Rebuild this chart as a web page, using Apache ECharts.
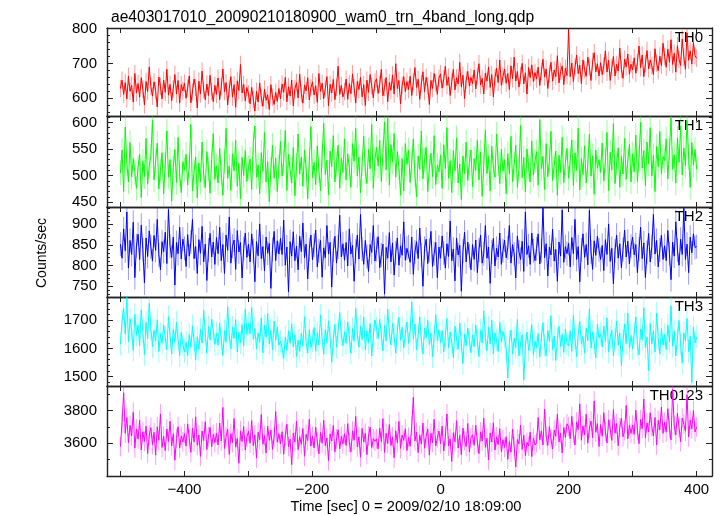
<!DOCTYPE html>
<html><head><meta charset="utf-8">
<script src="https://cdn.jsdelivr.net/npm/echarts@6/dist/echarts.min.js"></script>
<style>html,body{margin:0;padding:0;background:#fff}#c{width:723px;height:516px}</style>
</head><body><div id="c"></div>
<script>
// ---- data ----
const tStart = -500, tStep = 2.5;
const panelNames = ['TH0', 'TH1', 'TH2', 'TH3', 'TH0123'];
const errors = [25, 23, 29, 40, 60];
const th0 = [
628,652,611,645,598,663,620,637,589,671,615,642,603,659,626,581,648,619,690,634,
606,647,622,575,661,634,598,652,617,683,609,640,593,627,668,612,651,586,639,621,
643,600,629,664,587,618,655,631,572,649,612,678,624,596,641,608,666,620,590,637,
611,658,596,633,684,619,645,581,628,662,603,639,574,650,622,697,615,640,592,631,
612,584,631,597,563,620,589,644,601,577,626,594,610,568,639,603,582,617,591,628,
598,641,617,660,590,633,606,652,578,627,645,601,669,614,586,638,621,659,595,630,
647,609,636,588,671,620,643,599,628,662,578,640,615,654,596,631,692,611,637,604,
619,655,597,642,613,670,630,586,648,625,661,604,639,579,652,617,668,635,601,646,
656,614,640,683,607,631,659,590,645,623,667,612,699,628,651,584,637,662,619,648,
625,663,608,647,688,631,654,597,642,676,619,660,635,582,651,628,671,644,611,658,
670,629,655,692,637,661,608,648,683,624,659,641,703,632,666,599,652,677,635,660,
642,681,627,664,699,638,657,612,672,649,690,631,668,604,659,686,645,710,637,663,
684,643,671,625,693,656,718,649,677,632,665,700,641,673,612,688,659,696,648,674,
655,689,637,676,712,661,684,628,670,703,649,681,662,722,644,677,693,639,686,665,
795,662,701,648,689,724,671,695,642,710,682,663,718,690,651,705,731,676,699,664,
702,668,693,736,675,709,651,688,720,664,697,678,744,683,657,712,690,727,669,698,
681,716,672,703,750,688,724,662,699,737,684,710,693,668,742,701,679,721,694,758,
720,689,741,703,768,697,729,675,751,712,694,770,718,683,788,709,736,698,760,722,
715];
const th1 = [
505,548,470,591,523,488,562,497,532,506,476,515,540,459,527,498,570,484,519,536,
604,492,528,561,475,509,543,466,521,584,497,530,452,515,549,487,572,503,468,526,
511,540,482,519,596,471,507,535,458,524,488,563,501,477,545,512,467,530,579,493,
518,486,551,504,463,527,589,495,518,472,541,509,566,480,523,456,534,500,547,489,
515,531,474,562,593,497,520,466,543,508,581,488,526,451,512,557,495,533,470,518,
564,499,527,585,472,540,511,486,553,462,519,578,503,535,480,548,514,457,529,592,
496,525,483,556,509,471,538,598,502,529,464,546,517,575,488,521,557,476,533,506,
569,492,541,515,478,560,527,589,499,535,468,522,574,507,485,549,513,596,476,531,
553,518,566,489,543,601,511,608,482,558,526,579,497,545,515,463,532,471,560,521,
548,487,524,569,501,460,537,512,584,494,529,553,470,516,542,498,575,483,520,507,
539,476,558,513,590,495,528,468,547,509,571,486,522,455,537,503,563,491,525,548,
479,532,510,567,492,544,461,519,586,504,536,471,555,514,497,578,523,485,549,508,
530,466,541,503,574,489,521,557,478,512,594,496,534,469,550,517,488,565,501,527,
545,482,605,513,536,474,560,498,527,583,491,519,546,463,538,506,572,487,524,551,
495,528,567,481,543,510,589,473,532,502,556,486,521,578,499,537,465,548,514,530,
506,561,490,529,581,472,544,511,598,485,523,552,478,536,503,570,493,527,559,488,
541,507,576,489,533,600,514,547,481,563,522,590,499,538,470,555,517,583,503,536,
528,569,494,547,608,512,539,486,571,525,593,501,552,519,604,535,478,562,520,549,
512];
const th2 = [
852,818,889,836,930,794,861,827,905,771,848,876,815,898,839,758,867,822,884,846,
811,873,837,912,826,790,858,834,881,805,936,847,820,869,753,856,829,893,816,864,
842,798,875,823,857,912,817,846,781,863,830,895,809,852,764,838,878,821,857,803,
868,829,893,812,851,781,874,837,918,806,847,862,791,885,833,856,770,841,879,820,
852,809,877,836,761,858,824,901,817,846,787,869,830,854,745,839,883,812,860,828,
866,827,910,801,845,736,858,823,882,812,847,790,871,834,903,819,852,768,839,874,
814,849,886,797,836,861,772,843,819,897,828,856,748,837,871,806,845,922,821,853,
813,856,799,889,828,849,762,835,874,816,924,840,803,861,822,786,851,832,897,811,
839,870,795,826,852,731,844,818,880,809,855,777,831,867,801,848,825,906,813,842,
846,808,869,779,833,858,817,891,826,750,842,864,805,837,883,798,829,856,771,845,
818,872,831,794,853,822,908,812,840,763,867,826,849,738,835,881,809,857,824,790,
851,815,862,783,838,874,806,829,897,818,845,757,833,866,799,842,821,879,803,836,
862,819,843,897,806,851,828,770,872,833,815,859,786,930,827,848,803,879,836,812,
841,877,804,836,941,819,853,775,845,826,888,811,839,762,857,823,935,808,846,829,
854,797,868,829,912,815,846,761,838,877,820,851,802,934,833,791,860,825,871,838,
815,849,788,863,827,901,810,842,756,836,874,818,853,795,839,886,821,859,804,847,
869,826,851,783,840,893,817,855,771,832,878,809,846,924,828,861,797,838,874,815,
848,812,885,829,766,857,823,906,838,801,864,827,939,815,852,783,869,831,877,844,
846];
const th3 = [
1615,1698,1742,1651,1780,1623,1705,1668,1592,1721,1647,1683,1610,1736,1659,1578,1692,1634,1760,1671,
1606,1664,1627,1701,1589,1652,1618,1683,1637,1596,1712,1645,1580,1668,1621,1693,1633,1574,1657,1614,
1588,1622,1575,1649,1603,1680,1627,1560,1641,1596,1668,1619,1735,1652,1583,1677,1630,1704,1661,1614,
1655,1612,1690,1631,1576,1663,1622,1748,1644,1598,1675,1636,1702,1587,1658,1620,1684,1609,1739,1650,
1690,1652,1745,1633,1671,1598,1655,1622,1708,1584,1682,1640,1723,1616,1664,1595,1697,1629,1676,1611,
1626,1600,1565,1641,1593,1662,1618,1687,1605,1649,1572,1630,1589,1654,1608,1712,1624,1583,1667,1603,
1627,1674,1590,1656,1612,1718,1635,1579,1667,1620,1698,1643,1551,1631,1685,1604,1662,1727,1648,1610,
1659,1618,1694,1637,1583,1670,1625,1742,1651,1604,1679,1632,1711,1596,1663,1620,1688,1573,1646,1701,
1672,1635,1703,1648,1591,1681,1626,1739,1657,1612,1690,1644,1583,1666,1710,1629,1675,1601,1652,1694,
1618,1661,1765,1633,1687,1595,1649,1712,1626,1580,1672,1638,1699,1614,1655,1571,1643,1720,1628,1666,
1621,1663,1588,1645,1706,1602,1658,1624,1567,1679,1633,1597,1690,1618,1546,1651,1609,1672,1628,1585,
1648,1606,1683,1627,1571,1664,1619,1733,1638,1592,1676,1615,1700,1581,1655,1630,1589,1692,1624,1660,
1640,1598,1495,1622,1665,1581,1636,1603,1702,1574,1619,1648,1488,1611,1658,1593,1630,1684,1577,1626,
1603,1652,1569,1637,1691,1610,1574,1663,1625,1716,1596,1644,1558,1632,1678,1607,1650,1586,1669,1618,
1609,1662,1590,1718,1635,1571,1650,1696,1615,1643,1583,1672,1627,1740,1601,1658,1619,1566,1685,1637,
1652,1605,1679,1624,1708,1588,1641,1664,1573,1633,1697,1612,1655,1539,1628,1686,1617,1725,1600,1646,
1598,1654,1712,1610,1577,1669,1631,1744,1603,1640,1521,1688,1616,1662,1587,1725,1634,1580,1670,1612,
1649,1596,1683,1622,1751,1608,1661,1574,1637,1699,1615,1548,1655,1627,1706,1589,1643,1480,1676,1620,
1640];
const th0123 = [
3580,3725,3910,3662,3758,3604,3710,3645,3790,3571,3688,3626,3742,3559,3671,3612,3705,3538,3650,3696,
3592,3667,3528,3701,3619,3780,3575,3643,3556,3688,3612,3735,3584,3659,3497,3630,3702,3571,3645,3608,
3660,3583,3719,3627,3545,3694,3609,3762,3588,3651,3520,3676,3617,3733,3562,3641,3698,3579,3655,3604,
3663,3590,3724,3615,3820,3568,3641,3687,3532,3659,3604,3752,3577,3630,3478,3676,3612,3702,3559,3638,
3674,3601,3739,3586,3652,3510,3668,3622,3776,3595,3647,3541,3705,3618,3681,3563,3638,3794,3607,3659,
3596,3671,3533,3648,3717,3580,3625,3470,3662,3609,3735,3562,3641,3594,3690,3521,3655,3617,3748,3583,
3644,3572,3698,3610,3536,3667,3601,3741,3585,3633,3494,3658,3614,3709,3548,3627,3683,3566,3642,3597,
3659,3587,3721,3604,3548,3676,3619,3765,3578,3640,3515,3692,3608,3662,3531,3645,3700,3574,3628,3613,
3628,3566,3693,3610,3751,3544,3662,3599,3715,3587,3640,3512,3677,3603,3734,3569,3651,3618,3689,3556,
3637,3582,3705,3882,3615,3668,3543,3650,3596,3724,3570,3643,3688,3528,3661,3604,3747,3585,3632,3675,
3598,3706,3553,3642,3780,3584,3627,3489,3665,3610,3738,3571,3649,3530,3693,3617,3580,3722,3546,3634,
3652,3588,3711,3603,3537,3670,3615,3754,3576,3631,3498,3664,3608,3726,3559,3640,3592,3690,3549,3622,
3575,3640,3502,3611,3546,3688,3580,3455,3624,3597,3712,3563,3650,3524,3607,3583,3668,3519,3632,3590,
3604,3758,3621,3676,3590,3809,3645,3587,3702,3628,3565,3681,3643,3779,3609,3662,3541,3697,3636,3720,
3702,3628,3765,3660,3590,3731,3684,3842,3619,3707,3652,3778,3601,3694,3736,3635,3860,3668,3721,3580,
3715,3643,3788,3670,3602,3744,3689,3618,3806,3662,3721,3585,3697,3753,3640,3678,3832,3627,3710,3661,
3712,3655,3803,3680,3598,3746,3690,3871,3634,3725,3669,3787,3702,3645,3758,3590,3740,3683,3822,3661,
3729,3668,3812,3694,3621,3930,3708,3652,3784,3697,3610,3755,3716,3674,3898,3639,3742,3688,3801,3670,
3700];
const xTicks = [-500, -400, -300, -200, -100, 0, 100, 200, 300, 400];
const xTickLabels = [-400, -200, 0, 200, 400];
const yMajorTicks = [[600, 700, 800], [450, 500, 550, 600], [750, 800, 850, 900], [1500, 1600, 1700], [3600, 3800]];

// ---- layout / style ----
const seriesData = [th0, th1, th2, th3, th0123];
const colors = ['#ff0000', '#00ff00', '#0000ff', '#00ffff', '#ff00ff'];
const yRange = [[549, 801.7], [441, 612], [724, 942], [1467, 1782], [3400, 3951]];
const yMinorStep = [20, 10, 10, 20, 100];
const grids = [{top: 28, height: 88}, {top: 116, height: 91}, {top: 207, height: 90}, {top: 297, height: 89}, {top: 386, height: 90}];
const FONT = 'Liberation Sans';
const frame = {color: '#222', width: 1.4};
const tickStyle = {color: '#222', width: 1};

const xAxes = [], yAxes = [], series = [], gridOpts = [], graphics = [];
grids.forEach((g, i) => {
  gridOpts.push({left: 107, right: 11, top: g.top, height: g.height});
  const last = i === grids.length - 1;
  const xMin = -521, xMax = 424;
  xAxes.push({type: 'value', gridIndex: i, position: 'bottom', min: xMin, max: xMax,
    axisLine: {show: true, onZero: false, lineStyle: frame},
    axisTick: {show: true, inside: true, length: 5, customValues: xTicks, lineStyle: tickStyle},
    axisLabel: {show: last, customValues: xTickLabels, margin: 6, color: '#000', fontSize: 15, fontFamily: FONT,
      formatter: v => (v < 0 ? '\u2212' + Math.abs(v) : String(v))},
    splitLine: {show: false}});
  xAxes.push({type: 'value', gridIndex: i, position: 'top', min: xMin, max: xMax,
    axisLine: {show: true, onZero: false, lineStyle: frame},
    axisTick: {show: true, inside: true, length: 5, customValues: xTicks, lineStyle: tickStyle},
    axisLabel: {show: false}, splitLine: {show: false}});
  const [lo, hi] = yRange[i];
  const minors = [];
  for (let v = Math.ceil(lo / yMinorStep[i]) * yMinorStep[i]; v <= hi; v += yMinorStep[i]) minors.push(v);
  ['left', 'right'].forEach(pos => {
    yAxes.push({type: 'value', gridIndex: i, position: pos, min: lo, max: hi,
      axisLine: {show: true, onZero: false, lineStyle: frame},
      axisTick: {show: true, inside: true, length: 6, customValues: yMajorTicks[i], lineStyle: tickStyle},
      axisLabel: {show: pos === 'left', customValues: yMajorTicks[i], margin: 10, color: '#000', fontSize: 15,
        fontFamily: FONT, formatter: v => String(v)},
      splitLine: {show: false}});
    yAxes.push({type: 'value', gridIndex: i, position: pos, min: lo, max: hi,
      axisLine: {show: false, onZero: false},
      axisTick: {show: true, inside: true, length: 3, customValues: minors, lineStyle: tickStyle},
      axisLabel: {show: false}, splitLine: {show: false}});
  });
  const pts = seriesData[i].map((v, k) => [tStart + k * tStep, v]);
  const err = errors[i], col = colors[i];
  series.push({type: 'custom', xAxisIndex: 2 * i, yAxisIndex: 4 * i, clip: true, silent: true,
    encode: {x: 0, y: 1}, data: pts,
    renderItem: (params, api) => {
      const t = api.value(0), v = api.value(1);
      const a = api.coord([t, v - err]), b = api.coord([t, v + err]);
      return {type: 'line', shape: {x1: a[0], y1: a[1], x2: b[0], y2: b[1]},
        style: {stroke: col, opacity: 0.4, lineWidth: 1}};
    }});
  series.push({type: 'line', xAxisIndex: 2 * i, yAxisIndex: 4 * i, data: pts, showSymbol: false, symbol: 'none',
    clip: true, silent: true, lineStyle: {color: col, width: 1}});
  graphics.push({type: 'text', right: 20, top: g.top + 2,
    style: {text: panelNames[i], fill: '#000', font: '15px "' + FONT + '"'}});
});
graphics.push({type: 'text', x: 42, y: 253, rotation: Math.PI / 2,
  style: {text: 'Counts/sec', fill: '#000', font: '14px "' + FONT + '"', align: 'center', verticalAlign: 'middle'}});
graphics.push({type: 'text', x: 406, y: 499,
  style: {text: 'Time [sec] 0 = 2009/02/10 18:09:00', fill: '#000', font: '14.7px "' + FONT + '"', align: 'center', verticalAlign: 'top'}});

const chart = echarts.init(document.getElementById('c'), null, {renderer: 'canvas'});
chart.setOption({
  animation: false,
  backgroundColor: '#fff',
  textStyle: {fontFamily: FONT},
  title: {text: 'ae403017010_20090210180900_wam0_trn_4band_long.qdp', left: 106, top: 5,
    textStyle: {fontSize: 15.6, fontWeight: 'normal', color: '#000', fontFamily: FONT}},
  grid: gridOpts, xAxis: xAxes, yAxis: yAxes, series: series, graphic: graphics
});
</script></body></html>
